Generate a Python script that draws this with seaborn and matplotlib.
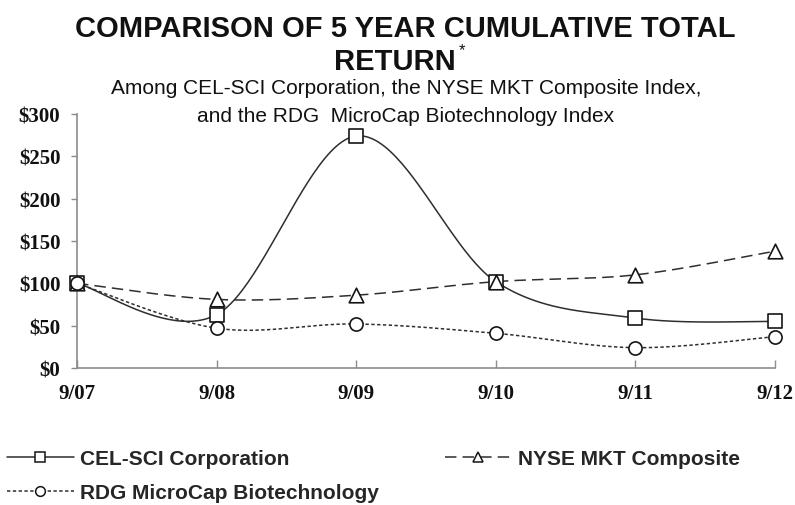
"""Five-year cumulative total return comparison (CEL-SCI vs. indices)."""

import matplotlib

matplotlib.use("Agg")
import matplotlib.pyplot as plt
import numpy as np
import pandas as pd
import seaborn as sns
from matplotlib.lines import Line2D

YEARS = ["9/07", "9/08", "9/09", "9/10", "9/11", "9/12"]
CELSCI = [100, 63, 274, 102, 59, 55]
NYSE_MKT = [100, 81, 86, 102, 110, 138]
RDG_BIOTECH = [100, 47, 52, 41, 24, 37]

NAMES = ["CEL-SCI Corporation", "NYSE MKT Composite",
         "RDG MicroCap Biotechnology"]
MARKERS = ["s", "^", "o"]
DASHES = [None, (7.5, 4), (2.2, 1.6)]

TITLE_1 = "COMPARISON OF 5 YEAR CUMULATIVE TOTAL"
TITLE_2 = "RETURN"
SUB_1 = "Among CEL-SCI Corporation, the NYSE MKT Composite Index,"
SUB_2 = "and the RDG  MicroCap Biotechnology Index"

INK = "#2e2e2e"
SANS = ["Liberation Sans", "DejaVu Sans"]
SERIF = ["Liberation Serif", "DejaVu Serif"]
W, H = 795, 506


def _smooth(values, steps=50):
    """Excel-style smoothed line (Bezier segments, Catmull-Rom tangents)."""
    y = np.asarray(values, dtype=float)
    x = np.arange(len(y), dtype=float)
    px = np.concatenate([[x[0]], x, [x[-1]]])
    py = np.concatenate([[y[0]], y, [y[-1]]])
    t = np.linspace(0, 1, steps)[:, None]
    out = []
    for i in range(1, len(px) - 2):
        p0 = np.array([px[i - 1], py[i - 1]])
        p1 = np.array([px[i], py[i]])
        p2 = np.array([px[i + 1], py[i + 1]])
        p3 = np.array([px[i + 2], py[i + 2]])
        c1 = p1 + (p2 - p0) / 6
        c2 = p2 - (p3 - p1) / 6
        seg = ((1 - t) ** 3 * p1 + 3 * (1 - t) ** 2 * t * c1
               + 3 * (1 - t) * t ** 2 * c2 + t ** 3 * p2)
        out.append(seg if i == 1 else seg[1:])
    return np.vstack(out)


def _fx(px):
    return px / W


def _fy(py):
    return 1 - py / H


sns.set_style("white")
plt.rcParams["font.family"] = SANS

fig = plt.figure(figsize=(W / 100, H / 100), dpi=100)
ax = fig.add_axes([_fx(77), _fy(369), _fx(775 - 77), (369 - 115) / H])

points = pd.DataFrame({
    "idx": np.tile(np.arange(len(YEARS)), 3),
    "value": CELSCI + NYSE_MKT + RDG_BIOTECH,
    "series": np.repeat(NAMES, len(YEARS)),
})

sizes = {"s": 88, "^": 110, "o": 90}
for name, marker, dash in zip(NAMES, MARKERS, DASHES):
    pts = points[points["series"] == name]
    curve = _smooth(pts["value"].to_numpy())
    sm = pd.DataFrame({"x": curve[:, 0], "y": curve[:, 1]})
    sns.lineplot(data=sm, x="x", y="y", ax=ax, color=INK, lw=1.1,
                 sort=False, estimator=None, zorder=2)
    if dash is not None:
        ax.lines[-1].set_dashes(dash)
    sns.scatterplot(data=pts, x="idx", y="value", ax=ax, marker=marker,
                    s=sizes[marker], facecolor="white", edgecolor="#151515",
                    linewidth=1.2, zorder=3, clip_on=False)

ax.set_xlim(0, len(YEARS) - 1)
ax.set_ylim(0, 300)
ax.set_xticks(range(len(YEARS)))
ax.set_xticklabels(YEARS)
ax.set_yticks(range(0, 301, 50))
ax.set_yticklabels([f"${v}" for v in range(0, 301, 50)])
ax.set_xlabel("")
ax.set_ylabel("")
for lab in ax.get_xticklabels() + ax.get_yticklabels():
    lab.set_family(SERIF)
    lab.set_fontweight("bold")
    lab.set_fontsize(15)
    lab.set_color("#111111")
ax.tick_params(axis="y", direction="out", length=4, width=1,
               color="#8c8c8c", left=True, pad=8)
ax.tick_params(axis="x", direction="in", length=6, width=1,
               color="#8c8c8c", bottom=True, pad=11)
sns.despine(ax=ax)
for side in ("left", "bottom"):
    ax.spines[side].set_color("#8c8c8c")
    ax.spines[side].set_linewidth(1.2)

# titles
fig.text(_fx(405), _fy(26), TITLE_1, ha="center", va="center_baseline",
         fontsize=21, fontweight="bold", color="#111111")
fig.text(_fx(395), _fy(59), TITLE_2, ha="center", va="center_baseline",
         fontsize=21, fontweight="bold", color="#111111")
fig.text(_fx(459), _fy(51), "*", ha="left", va="center",
         fontsize=12, color="#111111")
fig.text(_fx(406), _fy(87), SUB_1, ha="center", va="center_baseline",
         fontsize=15, color="#111111")
fig.text(_fx(406), _fy(114), SUB_2, ha="center", va="center_baseline",
         fontsize=15, color="#111111")

# legend, one entry per slot
slots = [(7, 460), (445, 460), (7, 494)]
for name, marker, dash, (lx, ly) in zip(NAMES, MARKERS, DASHES, slots):
    handle = Line2D([], [], color=INK, lw=1.1,
                    ls="-" if dash is None else (0, dash),
                    marker=marker, markersize=7, markeredgewidth=1.1,
                    markerfacecolor="white", markeredgecolor="#151515")
    fig.legend([handle], [name], loc="center left",
               bbox_to_anchor=(_fx(lx), _fy(ly)), frameon=False,
               borderpad=0, borderaxespad=0, handlelength=3.2,
               handletextpad=0.3,
               prop={"family": SANS, "weight": "bold", "size": 15})

fig.savefig("out.png", dpi=100)
